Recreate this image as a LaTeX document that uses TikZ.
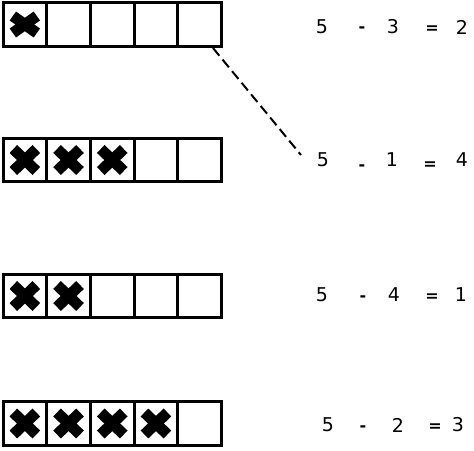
\documentclass[tikz,border=0pt]{standalone}
\usepackage{fontspec}
\setmainfont{DejaVu Sans}
\begin{document}
\begin{tikzpicture}[x=1pt,y=-1pt,
  cell/.style={draw, line width=3pt, minimum width=43.7pt, minimum height=43.5pt, inner sep=0pt, outer sep=0pt},
  xmark/.style={line width=11pt, line cap=butt},
  eq/.style={font=\fontsize{19}{22}\selectfont, inner sep=0pt},
  sym/.style={font=\fontsize{16}{20}\selectfont\bfseries, inner sep=0pt},
  conn/.style={line width=2pt, dash pattern=on 10pt off 5pt}]
\useasboundingbox (0,0) rectangle (474,450);
\fill[white] (0,0) rectangle (474,450);
% rows of cells
\foreach \r/\y in {1/24.5, 2/160, 3/296, 4/423.5}{
  \foreach \c in {1,...,5}{
    \node[cell] (r\r c\c) at ({3+43.7*(\c-0.5)},\y) {};
  }
}
% crosses
\foreach \c in {1}{
  \draw[xmark] ([shift={(-12,-8.5)}]r1c\c.center) -- ([shift={(12,8.5)}]r1c\c.center);
  \draw[xmark] ([shift={(-12,8.5)}]r1c\c.center) -- ([shift={(12,-8.5)}]r1c\c.center);
}
\foreach \r/\n in {2/3, 3/2, 4/4}{
  \foreach \c in {1,...,\n}{
    \draw[xmark] ([shift={(-11.5,-11)}]r\r c\c.center) -- ([shift={(11.5,11)}]r\r c\c.center);
    \draw[xmark] ([shift={(-11.5,11)}]r\r c\c.center) -- ([shift={(11.5,-11)}]r\r c\c.center);
  }
}
% equations
\node[eq] (a1) at (322,27) {5};
\node[sym] (m1) at (362,30) {-};
\node[eq] (b1) at (393,27) {3};
\node[sym] (q1) at (432,30) {=};
\node[eq] (c1) at (462,27) {2};

\node[eq] (a2) at (323,160) {5};
\node[sym] (m2) at (362,168) {-};
\node[eq] (b2) at (392,160) {1};
\node[sym] (q2) at (430,166) {=};
\node[eq] (c2) at (462,160) {4};

\node[eq] (a3) at (322,295) {5};
\node[sym] (m3) at (363,299) {-};
\node[eq] (b3) at (394,295) {4};
\node[sym] (q3) at (432,298) {=};
\node[eq] (c3) at (461,295) {1};

\node[eq] (a4) at (328,425) {5};
\node[sym] (m4) at (363,429) {-};
\node[eq] (b4) at (398,425) {2};
\node[sym] (q4) at (435,428) {=};
\node[eq] (c4) at (458,425) {3};

% dashed connector
\coordinate (ds) at (213,48);
\coordinate (de) at (301,155);
\draw[conn] (ds) -- (de);
\end{tikzpicture}
\end{document}
